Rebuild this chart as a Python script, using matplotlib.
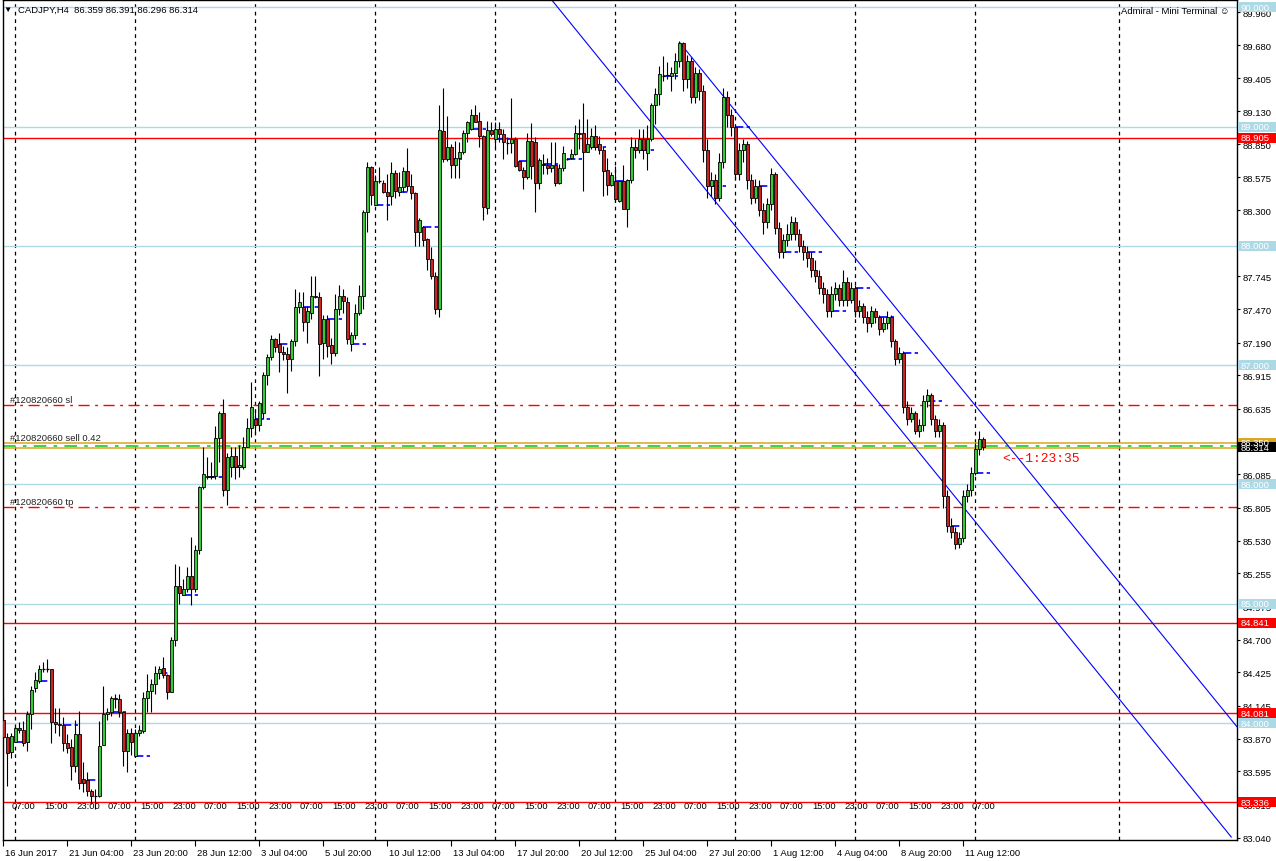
import numpy as np
import matplotlib.pyplot as plt
from matplotlib.patches import Rectangle
import matplotlib.transforms as mtransforms

plt.rcParams['font.family'] = ['Liberation Sans', 'DejaVu Sans']

# ---- CADJPY H4 candles (bar 0 = 16 Jun 2017 12:00) ----
opens = [84.03, 83.88, 83.76, 83.84, 83.96, 83.94, 83.84, 84.08, 84.29, 84.35,
         84.45, 84.45, 84.45, 84.01, 83.99, 83.98, 83.83, 83.80, 83.64, 83.91,
         83.53, 83.52, 83.43, 83.39, 83.39, 83.82, 84.08, 84.09, 84.21, 84.20,
         84.09, 83.77, 83.92, 83.72, 83.92, 83.93, 84.21, 84.27, 84.33, 84.42,
         84.46, 84.40, 84.26, 84.70, 85.15, 85.07, 85.12, 85.23, 85.12, 85.45,
         85.98, 86.06, 86.07, 86.07, 86.39, 86.60, 85.95, 86.15, 86.24, 86.15,
         86.15, 86.31, 86.47, 86.55, 86.50, 86.60, 86.92, 87.07, 87.22, 87.18,
         87.11, 87.09, 87.05, 87.20, 87.49, 87.49, 87.36, 87.44, 87.58, 87.57,
         87.19, 87.39, 87.17, 87.10, 87.47, 87.58, 87.53, 87.18, 87.25, 87.44,
         87.58, 88.28, 88.66, 88.34, 88.54, 88.53, 88.45, 88.42, 88.61, 88.45,
         88.49, 88.63, 88.50, 88.44, 88.12, 88.16, 88.06, 87.89, 87.75, 87.47,
         88.96, 88.73, 88.83, 88.68, 88.74, 88.79, 88.95, 88.98, 89.10, 89.05,
         88.92, 88.32, 88.97, 88.90, 88.98, 88.94, 88.86, 88.86, 88.90, 88.71,
         88.64, 88.58, 88.88, 88.87, 88.53, 88.69, 88.68, 88.65, 88.68, 88.53,
         88.65, 88.73, 88.74, 88.77, 88.95, 88.95, 88.79, 88.83, 88.92, 88.85,
         88.80, 88.64, 88.51, 88.54, 88.38, 88.54, 88.31, 88.55, 88.83, 88.80,
         88.90, 88.78, 88.90, 89.18, 89.27, 89.42, 89.43]
highs = [84.22, 83.92, 83.92, 83.98, 84.01, 84.02, 84.10, 84.31, 84.43, 84.49,
         84.51, 84.54, 84.45, 84.13, 84.13, 84.05, 83.91, 83.87, 84.03, 84.10,
         83.67, 83.59, 83.45, 83.45, 84.02, 84.31, 84.13, 84.23, 84.24, 84.24,
         84.09, 83.95, 83.96, 83.95, 83.98, 84.26, 84.41, 84.37, 84.48, 84.48,
         84.55, 84.41, 84.72, 85.33, 85.32, 85.21, 85.31, 85.56, 85.49, 85.99,
         86.31, 86.23, 86.19, 86.49, 86.62, 86.72, 86.26, 86.31, 86.31, 86.33,
         86.40, 86.56, 86.86, 86.63, 86.70, 86.94, 87.09, 87.25, 87.23, 87.27,
         87.16, 87.15, 87.22, 87.64, 87.61, 87.61, 87.50, 87.75, 87.75, 87.61,
         87.42, 87.42, 87.23, 87.60, 87.67, 87.64, 87.57, 87.28, 87.51, 87.67,
         88.30, 88.70, 88.67, 88.59, 88.66, 88.55, 88.60, 88.70, 88.64, 88.62,
         88.66, 88.82, 88.60, 88.45, 88.23, 88.17, 88.07, 87.99, 87.78, 89.18,
         89.32, 89.09, 88.85, 88.88, 88.87, 88.97, 89.05, 89.15, 89.18, 89.12,
         88.93, 89.05, 89.04, 89.04, 89.04, 88.98, 88.91, 89.24, 88.91, 88.71,
         88.66, 88.95, 89.03, 88.91, 88.74, 88.77, 88.74, 88.87, 88.87, 88.69,
         88.84, 88.74, 88.81, 89.01, 89.06, 89.20, 89.06, 88.99, 89.01, 88.92,
         88.83, 88.74, 88.62, 88.67, 88.55, 88.68, 88.56, 88.91, 88.90, 88.98,
         88.98, 89.01, 89.20, 89.32, 89.51, 89.59, 89.54]
lows = [83.87, 83.47, 83.71, 83.84, 83.92, 83.81, 83.77, 83.95, 84.26, 84.34,
        84.43, 84.43, 83.83, 83.92, 83.89, 83.77, 83.75, 83.52, 83.59, 83.45,
        83.42, 83.39, 83.32, 83.28, 83.38, 83.82, 84.03, 84.06, 84.13, 84.05,
        83.64, 83.59, 83.73, 83.72, 83.89, 83.92, 84.09, 84.09, 84.24, 84.37,
        84.38, 84.20, 84.26, 84.65, 85.00, 85.07, 85.10, 84.99, 85.10, 85.42,
        85.96, 86.05, 86.05, 86.05, 86.19, 85.90, 85.83, 86.06, 86.05, 86.06,
        86.13, 86.31, 86.40, 86.42, 86.45, 86.55, 86.83, 87.04, 87.11, 86.94,
        87.04, 86.77, 86.95, 87.16, 87.44, 87.29, 87.19, 87.39, 87.56, 86.91,
        87.05, 87.07, 87.01, 87.08, 87.42, 87.44, 87.18, 87.12, 87.22, 87.42,
        87.47, 88.12, 88.34, 88.34, 88.53, 88.44, 88.22, 88.34, 88.40, 88.42,
        88.45, 88.46, 88.39, 88.00, 88.00, 88.00, 87.80, 87.72, 87.43, 87.40,
        88.70, 88.71, 88.57, 88.57, 88.57, 88.77, 88.87, 88.97, 89.04, 88.83,
        88.22, 88.27, 88.92, 88.83, 88.87, 88.73, 88.77, 88.78, 88.66, 88.63,
        88.48, 88.56, 88.56, 88.28, 88.48, 88.60, 88.60, 88.62, 88.50, 88.52,
        88.63, 88.72, 88.73, 88.76, 88.81, 88.46, 88.79, 88.81, 88.80, 88.77,
        88.42, 88.43, 88.50, 88.37, 88.37, 88.31, 88.16, 88.53, 88.74, 88.78,
        88.73, 88.64, 88.88, 89.02, 89.18, 89.38, 89.40]
closes = [83.88, 83.75, 83.89, 83.96, 83.94, 83.83, 84.08, 84.28, 84.36, 84.45,
          84.45, 84.45, 84.01, 83.99, 83.98, 83.83, 83.79, 83.64, 83.91, 83.50,
          83.50, 83.43, 83.39, 83.39, 83.81, 84.08, 84.09, 84.21, 84.20, 84.09,
          83.77, 83.92, 83.84, 83.92, 83.94, 84.21, 84.27, 84.33, 84.42, 84.45,
          84.40, 84.26, 84.70, 85.15, 85.09, 85.12, 85.23, 85.12, 85.45, 85.98,
          86.09, 86.07, 86.06, 86.39, 86.60, 85.95, 86.23, 86.24, 86.15, 86.16,
          86.31, 86.47, 86.65, 86.50, 86.68, 86.92, 87.07, 87.22, 87.15, 87.11,
          87.09, 87.05, 87.20, 87.49, 87.53, 87.36, 87.45, 87.58, 87.57, 87.18,
          87.39, 87.16, 87.10, 87.47, 87.58, 87.54, 87.22, 87.25, 87.44, 87.58,
          88.28, 88.66, 88.43, 88.54, 88.54, 88.45, 88.42, 88.61, 88.46, 88.49,
          88.63, 88.50, 88.44, 88.12, 88.22, 88.05, 87.89, 87.75, 87.47, 88.97,
          88.73, 88.83, 88.68, 88.74, 88.79, 88.95, 89.04, 89.10, 89.04, 88.92,
          88.33, 88.97, 88.94, 88.98, 88.94, 88.87, 88.86, 88.90, 88.67, 88.64,
          88.58, 88.88, 88.67, 88.53, 88.72, 88.68, 88.65, 88.68, 88.53, 88.65,
          88.78, 88.73, 88.77, 88.95, 88.94, 88.79, 88.85, 88.92, 88.83, 88.80,
          88.63, 88.51, 88.59, 88.39, 88.54, 88.31, 88.55, 88.83, 88.80, 88.90,
          88.80, 88.90, 89.18, 89.27, 89.44, 89.42, 89.43]

# bars 167..245 (27 Jul 08:00 .. 14 Aug 08:00)
opens_aug = [89.42, 89.45, 89.55, 89.70, 89.40, 89.55, 89.25, 89.45, 89.30, 88.80,
             88.50, 88.55, 88.40, 88.70, 89.25, 89.10, 89.00, 88.60, 88.80, 88.85,
             88.55, 88.40, 88.50, 88.30, 88.20, 88.35, 88.60, 88.15, 87.95, 88.05,
             88.10, 88.20, 88.10, 88.00, 87.95, 87.90, 87.80, 87.75, 87.65, 87.60,
             87.45, 87.60, 87.65, 87.55, 87.70, 87.55, 87.65, 87.45, 87.50, 87.40,
             87.35, 87.45, 87.40, 87.30, 87.35, 87.40, 87.20, 87.05, 87.10, 86.65,
             86.55, 86.60, 86.45, 86.50, 86.70, 86.75, 86.55, 86.45, 86.50, 85.90,
             85.65, 85.60, 85.50, 85.55, 85.90, 85.95, 86.10, 86.30, 86.38]
highs_aug = [89.50, 89.62, 89.72, 89.71, 89.60, 89.58, 89.50, 89.48, 89.35, 88.90,
             88.62, 88.60, 88.78, 89.32, 89.30, 89.15, 89.02, 88.86, 88.90, 88.88,
             88.60, 88.56, 88.55, 88.36, 88.40, 88.65, 88.62, 88.20, 88.10, 88.18,
             88.25, 88.24, 88.14, 88.05, 88.00, 87.95, 87.88, 87.80, 87.70, 87.64,
             87.66, 87.70, 87.68, 87.80, 87.74, 87.70, 87.67, 87.55, 87.52, 87.45,
             87.50, 87.48, 87.42, 87.40, 87.45, 87.42, 87.22, 87.15, 87.12, 86.70,
             86.65, 86.62, 86.55, 86.75, 86.80, 86.77, 86.58, 86.55, 86.52, 85.95,
             85.72, 85.64, 85.60, 85.95, 86.00, 86.15, 86.35, 86.45, 86.40]
lows_aug = [89.30, 89.40, 89.50, 89.30, 89.32, 89.20, 89.20, 89.22, 88.70, 88.40,
            88.42, 88.35, 88.38, 88.65, 89.00, 88.92, 88.55, 88.55, 88.70, 88.48,
            88.35, 88.36, 88.25, 88.10, 88.15, 88.30, 88.10, 87.90, 87.90, 88.00,
            88.05, 88.05, 87.95, 87.88, 87.82, 87.74, 87.70, 87.60, 87.52, 87.40,
            87.40, 87.55, 87.50, 87.50, 87.50, 87.52, 87.40, 87.40, 87.35, 87.28,
            87.32, 87.35, 87.25, 87.28, 87.30, 87.15, 87.00, 87.02, 86.60, 86.50,
            86.52, 86.42, 86.40, 86.45, 86.65, 86.50, 86.40, 86.40, 85.80, 85.60,
            85.55, 85.46, 85.47, 85.52, 85.85, 85.90, 86.08, 86.25, 86.29]
closes_aug = [89.45, 89.55, 89.70, 89.40, 89.55, 89.25, 89.45, 89.30, 88.80, 88.50,
              88.55, 88.40, 88.70, 89.25, 89.10, 89.00, 88.60, 88.80, 88.85, 88.55,
              88.40, 88.50, 88.30, 88.20, 88.35, 88.60, 88.15, 87.95, 88.05, 88.10,
              88.20, 88.10, 88.00, 87.95, 87.90, 87.80, 87.75, 87.65, 87.60, 87.45,
              87.60, 87.65, 87.55, 87.70, 87.55, 87.65, 87.45, 87.50, 87.40, 87.35,
              87.45, 87.40, 87.30, 87.35, 87.40, 87.20, 87.05, 87.10, 86.65, 86.55,
              86.60, 86.45, 86.50, 86.70, 86.75, 86.55, 86.45, 86.50, 85.90, 85.65,
              85.60, 85.50, 85.55, 85.90, 85.95, 86.10, 86.30, 86.38, 86.31]

opens = opens + opens_aug
highs = highs + highs_aug
lows = lows + lows_aug
closes = closes + closes_aug

# levels
round_levels = [90.0, 89.0, 88.0, 87.0, 86.0, 85.0, 84.0]
red_levels = [88.905, 84.841, 84.081, 83.336]
sl_price = 86.665
tp_price = 85.81
ask_line = 86.345
bid_line = 86.308
entry_price = 86.322
bid = 86.314
# equidistant channel anchors (bar, price)
chan_low = [(136.9, 90.07), (307.0, 83.045)]
chan_up = [(169.2, 89.70), (308.4, 83.97)]

ytick_vals = [89.960, 89.680, 89.405, 89.130, 88.850, 88.575, 88.300, 88.020, 87.745,
              87.470, 87.190, 86.915, 86.635, 86.360, 86.085, 85.805, 85.530, 85.255,
              84.975, 84.700, 84.425, 84.145, 83.870, 83.595, 83.315, 83.040]
date_labels = ['16 Jun 2017', '21 Jun 04:00', '23 Jun 20:00', '28 Jun 12:00', '3 Jul 04:00',
               '5 Jul 20:00', '10 Jul 12:00', '13 Jul 04:00', '17 Jul 20:00', '20 Jul 12:00',
               '25 Jul 04:00', '27 Jul 20:00', '1 Aug 12:00', '4 Aug 04:00', '8 Aug 20:00',
               '11 Aug 12:00']
week_starts = [3, 33, 63, 93, 123, 153, 183, 213, 243, 279]
hour_names = ['07:00', '15:00', '23:00']

W, H = 1276, 862
fig = plt.figure(figsize=(W / 100, H / 100), dpi=100)
fig.patch.set_facecolor('white')
ax = fig.add_axes([3 / W, 21 / H, 1234 / W, 840 / H])
ax.set_xlim(-0.075, 308.43)
ax.set_ylim(83.020, 90.061)
for s in ax.spines.values():
    s.set_color('black')
    s.set_linewidth(1)

# weekly grid
for b in week_starts:
    ax.axvline(b, color='black', lw=0.9, ls=(0, (3, 3)), zorder=1)

for lv in round_levels:
    ax.axhline(lv, color='#ADD8E6', lw=1, zorder=1.2)
for lv in red_levels:
    ax.axhline(lv, color='red', lw=1, zorder=1.3)
ax.axhline(sl_price, color='red', lw=1, ls=(0, (8, 4, 2, 4)), zorder=1.3)
ax.axhline(tp_price, color='red', lw=1, ls=(0, (8, 4, 2, 4)), zorder=1.3)
ax.axhline(ask_line, color='#DAA520', lw=1.1, zorder=1.4)
ax.axhline(bid_line, color='#DAA520', lw=1.1, zorder=1.4)
ax.axhline(entry_price, color='#32CD32', lw=1.3, ls=(0, (7, 4, 2, 4)), zorder=1.45)

# channel
ax.plot([p[0] for p in chan_low], [p[1] for p in chan_low], color='blue', lw=0.8, zorder=1.5)
ax.plot([p[0] for p in chan_up], [p[1] for p in chan_up], color='blue', lw=0.8, zorder=1.5)

n = len(closes)
# daily open markers
for d in range(3, n, 6):
    ax.hlines(opens[d], d, d + 3.6, color='blue', lw=1.2, ls=(0, (5, 2)), zorder=2)

# candles
for i in range(n):
    o, h, l, c = opens[i], highs[i], lows[i], closes[i]
    ax.vlines(i, l, h, color='black', lw=0.8, zorder=3)
    if abs(c - o) < 0.006:
        ax.hlines(o, i - 0.4, i + 0.4, color='black', lw=0.9, zorder=4)
    else:
        fc = '#33CC33' if c > o else '#CC2222'
        ax.add_patch(Rectangle((i - 0.36, min(o, c)), 0.72, abs(c - o), facecolor=fc,
                               edgecolor='black', lw=0.6, zorder=4))

# axes ticks
ax.yaxis.tick_right()
ax.set_yticks(ytick_vals)
ax.set_yticklabels(['%.3f' % v for v in ytick_vals])
ax.tick_params(axis='y', direction='out', length=2.5, width=0.8, pad=1.5, labelsize=6.8, colors='black')
ax.set_xticks(range(0, 16 * len(date_labels), 16))
ax.set_xticklabels(date_labels)
ax.tick_params(axis='x', direction='out', length=4, width=0.8, pad=1.5, labelsize=6.8)
shift = mtransforms.ScaledTranslation(1.5 / 100, 0, fig.dpi_scale_trans)
for lbl in ax.get_xticklabels():
    lbl.set_ha('left')
    lbl.set_transform(lbl.get_transform() + shift)

# hour row
for k in range(31):
    ax.text(2.2 + 8 * k, 83.312, hour_names[k % 3], fontsize=6.8, va='center', ha='left', zorder=5)

# order labels
for price, txt in [(sl_price, '#120820660 sl'), (ask_line, '#120820660 sell 0.42'),
                   (tp_price, '#120820660 tp')]:
    ax.annotate(txt, xy=(1.7, price), xytext=(0, 1), textcoords='offset pixels',
                fontsize=6.8, va='bottom', ha='left', color='#222222', zorder=5)

ax.annotate('<--1:23:35', xy=(n - 1, bid), xytext=(19, -11), textcoords='offset pixels',
            fontsize=9.4, family='Liberation Mono', color='red', va='center', ha='left', zorder=6)

# price boxes on the right scale
trans = mtransforms.blended_transform_factory(ax.transAxes, ax.transData)


def price_box(price, face, txt_color='white'):
    ax.add_patch(Rectangle((1.0008, price - 0.042), 0.0312, 0.084, transform=trans,
                           clip_on=False, facecolor=face, edgecolor='none', zorder=20))
    ax.text(1.0028, price, '%.3f' % price, transform=trans, ha='left', va='center',
            fontsize=6.8, color=txt_color, clip_on=False, zorder=21)


for lv in round_levels:
    price_box(lv, '#ADD8E6')
for lv in red_levels:
    price_box(lv, 'red')
price_box(ask_line + 0.005, '#DAA520')
price_box(bid, 'black')

fig.text(3 / W, 1 - 10 / H, '\u25bc', fontsize=6, va='center', ha='left')
fig.text(18 / W, 1 - 10 / H, 'CADJPY,H4  86.359 86.391 86.296 86.314', fontsize=6.8,
         va='center', ha='left')
fig.text(1121 / W, 1 - 12 / H, 'Admiral - Mini Terminal \u263a', fontsize=6.8,
         va='center', ha='left')

fig.savefig('out.png', dpi=100)
